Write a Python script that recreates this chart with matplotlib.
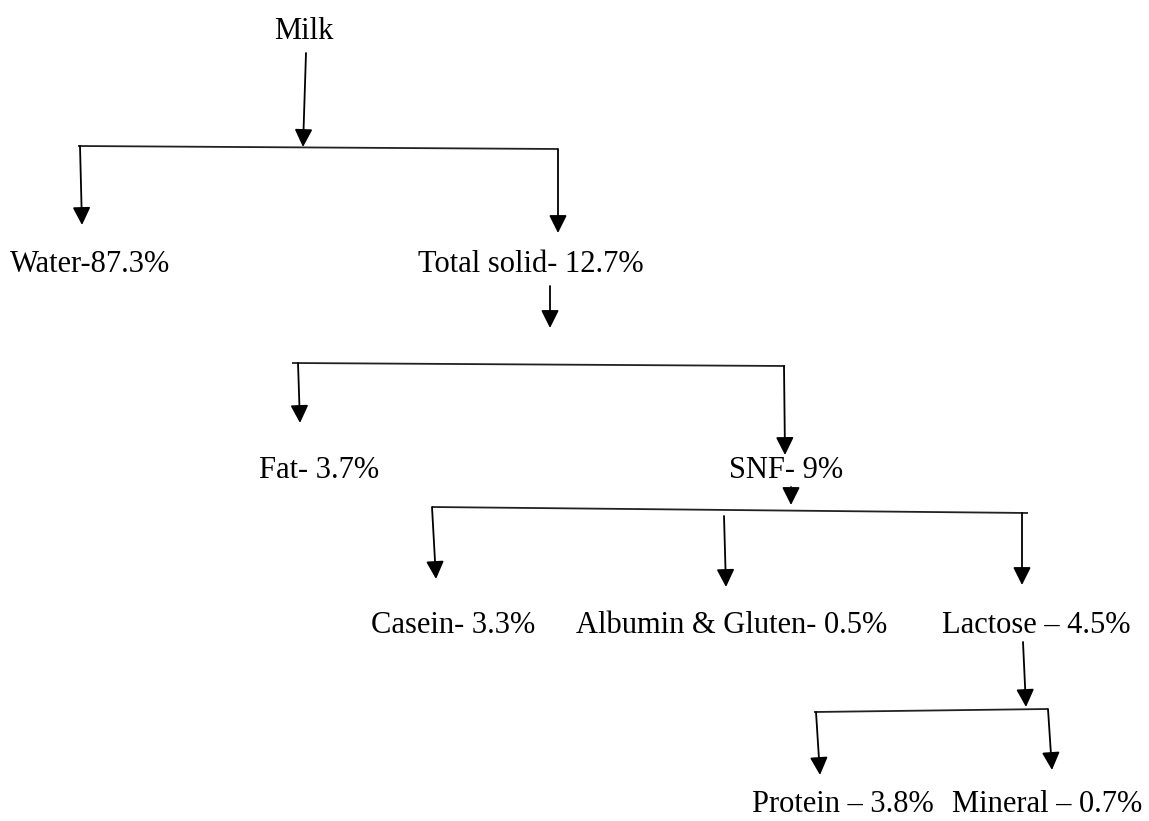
import matplotlib.pyplot as plt

# узлы дерева состава молока
labels = ['Milk', 'Water-87.3%', 'Total solid- 12.7%', 'Fat- 3.7%', 'SNF- 9%',
          'Casein- 3.3%', 'Albumin & Gluten- 0.5%', 'Lactose \u2013 4.5%',
          'Protein \u2013 3.8%', 'Mineral \u2013 0.7%']

# раскладка (в пикселях картинки), y - базовая линия текста
label_x = [304, 10, 418, 259, 729, 371, 576, 942, 752, 952]
label_y = [39, 272, 272, 478, 478, 633, 633, 633, 812, 812]
label_ha = ['center'] + ['left'] * 9

# горизонтальные перекладины
bars = [((78, 146), (558, 149)),
        ((292, 363), (785, 366)),
        ((432, 507), (1028, 513)),
        ((814, 712), (1048, 709))]

# стрелки: начало -> остриё
arrows = [((306, 53), (303, 147)),
          ((80, 146), (82, 225)),
          ((558, 149), (558, 233)),
          ((550, 286), (550, 328)),
          ((298, 363), (300, 423)),
          ((784, 366), (785, 455)),
          ((791, 487), (791, 505)),
          ((432, 507), (436, 579)),
          ((724, 516), (726, 587)),
          ((1022, 513), (1022, 585)),
          ((1023, 642), (1026, 707)),
          ((816, 712), (820, 775)),
          ((1048, 709), (1052, 770))]

fig = plt.figure(figsize=(11.49, 8.21), dpi=100)
ax = fig.add_axes([0, 0, 1, 1])
ax.set_xlim(0, 1149)
ax.set_ylim(821, 0)
ax.axis('off')

for (x0, y0), (x1, y1) in bars:
    ax.plot([x0, x1], [y0, y1], color='#222222', lw=1.3, solid_capstyle='butt')

for start, tip in arrows:
    ax.annotate('', xy=tip, xytext=start,
                arrowprops=dict(arrowstyle='-|>,head_length=0.4,head_width=0.2',
                                mutation_scale=27, color='black', lw=1.3,
                                shrinkA=0, shrinkB=0))

for t, x, y, ha in zip(labels, label_x, label_y, label_ha):
    ax.text(x, y, t, ha=ha, va='baseline', fontsize=22,
            family=['Liberation Serif', 'DejaVu Serif'], color='black')

fig.savefig('out.png', dpi=100)
